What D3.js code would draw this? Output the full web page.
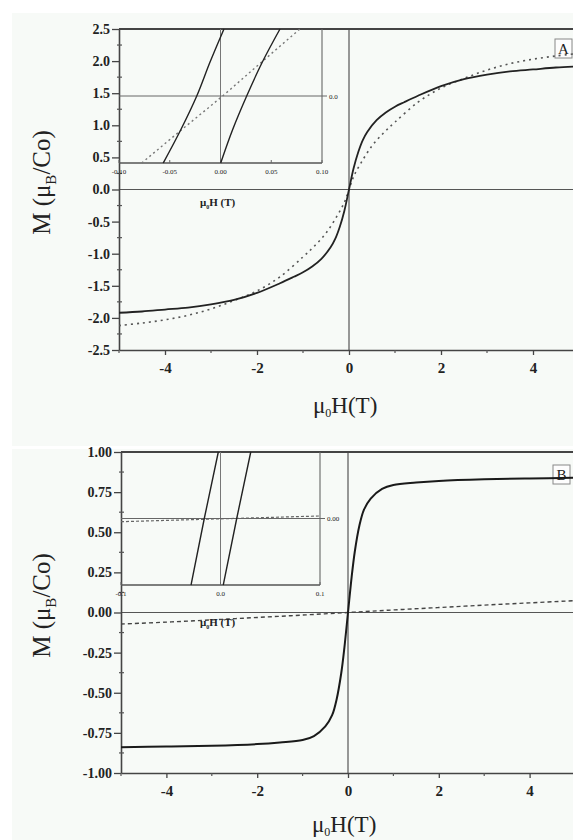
<!DOCTYPE html>
<html>
<head>
<meta charset="utf-8">
<script src="https://cdn.jsdelivr.net/npm/d3@7"></script>
<style>
  body { margin: 0; background: #ffffff; }
  svg { display: block; }
  text { font-family: "Liberation Serif", "DejaVu Serif", serif; fill: #222; }
</style>
</head>
<body>
<svg id="chart" width="573" height="840"></svg>
<script>
// ---- panel A : main curves ----
const hA_solid = [-5,-4.5,-4,-3.5,-3,-2.5,-2,-1.5,-1.2,-1,-0.8,-0.6,-0.4,-0.3,-0.2,-0.1,0,0.1,0.2,0.3,0.4,0.6,0.8,1,1.2,1.5,2,2.5,3,3.5,4,4.5,5];
const mA_solid = [-1.92,-1.90,-1.87,-1.84,-1.79,-1.72,-1.61,-1.46,-1.36,-1.29,-1.20,-1.08,-0.90,-0.77,-0.58,-0.33,0,0.33,0.58,0.77,0.90,1.08,1.20,1.29,1.36,1.46,1.61,1.72,1.79,1.84,1.87,1.90,1.92];
const hA_dot = [-5,-4.5,-4,-3.5,-3,-2.5,-2,-1.5,-1,-0.75,-0.5,-0.25,-0.1,0,0.1,0.25,0.5,0.75,1,1.5,2,2.5,3,3.5,4,4.5,5];
const mA_dot = [-2.12,-2.08,-2.03,-1.96,-1.86,-1.73,-1.58,-1.36,-1.05,-0.88,-0.68,-0.40,-0.20,0,0.20,0.40,0.68,0.88,1.05,1.36,1.58,1.73,1.86,1.96,2.03,2.08,2.12];

// ---- panel A : inset (zoom around zero field) ----
const insA_left_h = [-0.0564,-0.039,-0.0234,-0.0105,0.0034];
const insA_right_h = [0.0002,0.012,0.0258,0.041,0.0586];
const insA_solid_m = [-1,-0.5,0,0.5,1];
const insA_dot_h = [-0.0776,-0.038,0.002,0.040,0.0783];
const insA_dot_m = [-1,-0.5,0,0.5,1];

// ---- panel B : main curves ----
const hB_solid = [-5,-4,-3,-2,-1.5,-1,-0.75,-0.5,-0.35,-0.25,-0.15,-0.08,0,0.08,0.15,0.25,0.35,0.5,0.75,1,1.5,2,3,4,5];
const mB_solid = [-0.84,-0.835,-0.83,-0.82,-0.81,-0.795,-0.77,-0.71,-0.64,-0.54,-0.38,-0.22,0,0.22,0.38,0.54,0.64,0.71,0.77,0.795,0.81,0.82,0.83,0.835,0.84];
const hB_dash = [-5,-4,-3,-2,-1,0,1,2,3,4,5];
const mB_dash = [-0.072,-0.06,-0.046,-0.031,-0.016,0,0.016,0.031,0.046,0.06,0.074];

// ---- panel B : inset ----
const insB_left_h = [-0.0296,-0.0163,-0.0022];
const insB_right_h = [0.0028,0.0163,0.0304];
const insB_solid_m = [-1,0,1];
const insB_dash_h = [-0.1,0,0.1];
const insB_dash_m = [-0.048,-0.005,0.038];

// ticks
const xMajor = [-4,-2,0,2,4];
const xMinor = [-5,-3,-1,1,3,5];
const yMajorA = [2.5,2.0,1.5,1.0,0.5,0.0,-0.5,-1.0,-1.5,-2.0,-2.5];
const yMinorA = [2.25,1.75,1.25,0.75,0.25,-0.25,-0.75,-1.25,-1.75,-2.25];
const yMajorB = [1.0,0.75,0.5,0.25,0,-0.25,-0.5,-0.75,-1.0];
const yMinorB = [0.875,0.625,0.375,0.125,-0.125,-0.375,-0.625,-0.875];
const insTicksA = [-0.10,-0.05,0.00,0.05,0.10];
const insTicksB = [-0.1,0.0,0.1];

let svg = d3.select("#chart");

const zip = (xs, ys) => xs.map((x, i) => [x, ys[i]]);
const fmt = (d, n) => d.toFixed(n).replace("\u2212", "-");

function drawPanel(cfg){
    let g = svg.append("g");
    let x = d3.scaleLinear().domain([-5, 5]).range([cfg.left, cfg.right]);
    let y = d3.scaleLinear().domain(cfg.ydom).range([cfg.bottom, cfg.top]);

    // soft photo background
    g.append("rect").attr("x", 12).attr("y", cfg.bgTop).attr("width", 561)
        .attr("height", cfg.bgH).attr("fill", "#f7faf7");

    // zero lines
    g.append("line").attr("x1", x(0)).attr("x2", x(0)).attr("y1", cfg.top).attr("y2", cfg.bottom)
        .attr("stroke", "#555").attr("stroke-width", 1.2);
    g.append("line").attr("x1", cfg.left).attr("x2", cfg.right).attr("y1", y(0)).attr("y2", y(0))
        .attr("stroke", "#555").attr("stroke-width", 1.2);

    // top border
    g.append("line").attr("x1", cfg.left).attr("x2", cfg.right).attr("y1", cfg.top).attr("y2", cfg.top)
        .attr("stroke", "#444").attr("stroke-width", 2);

    // y axis
    let yAx = g.append("g").attr("transform", `translate(${cfg.left},0)`)
        .call(d3.axisLeft(y).tickValues(cfg.yMajor).tickSize(7).tickSizeOuter(0)
            .tickFormat(d => fmt(d, cfg.yDec)));
    yAx.select(".domain").attr("stroke", "#444").attr("stroke-width", 1.6);
    yAx.selectAll(".tick line").attr("stroke", "#444").attr("stroke-width", 1.3);
    yAx.selectAll("text").attr("font-size", 14).attr("font-weight", "bold")
        .attr("fill", "#333").attr("x", -9).style("font-family", "Liberation Serif");
    g.selectAll(".yminor").data(cfg.yMinor).enter().append("line")
        .attr("x1", cfg.left - 2).attr("x2", cfg.left + 3)
        .attr("y1", d => y(d)).attr("y2", d => y(d))
        .attr("stroke", "#555").attr("stroke-width", 1.2);

    // x axis
    let xAx = g.append("g").attr("transform", `translate(0,${cfg.bottom})`)
        .call(d3.axisBottom(x).tickValues(xMajor).tickSize(5).tickSizeOuter(0)
            .tickFormat(d => fmt(d, 0)));
    xAx.select(".domain").attr("stroke", "#444").attr("stroke-width", 1.6);
    xAx.selectAll(".tick line").attr("stroke", "#444").attr("stroke-width", 1.3);
    xAx.selectAll("text").attr("font-size", 15).attr("font-weight", "bold")
        .attr("fill", "#333").attr("y", 12).style("font-family", "Liberation Serif");
    g.selectAll(".xminor").data(xMinor).enter().append("line")
        .attr("x1", d => x(d)).attr("x2", d => x(d))
        .attr("y1", cfg.bottom).attr("y2", cfg.bottom + 3)
        .attr("stroke", "#555").attr("stroke-width", 1.2);

    // axis titles
    let xt = g.append("text").attr("x", x(0) - 36).attr("y", cfg.bottom + cfg.titleOff)
        .attr("font-size", 23).attr("fill", "#333");
    xt.append("tspan").text("\u03bc");
    xt.append("tspan").text("0").attr("font-size", 12).attr("dy", 4);
    xt.append("tspan").text("H(T)").attr("dy", -4);

    let yt = g.append("text")
        .attr("transform", `translate(50,${(cfg.top + cfg.bottom) / 2 - 7}) rotate(-90)`)
        .attr("text-anchor", "middle").attr("font-size", 25).attr("fill", "#333");
    yt.append("tspan").text("M (\u03bc");
    yt.append("tspan").text("B").attr("font-size", 15).attr("dy", 6);
    yt.append("tspan").text("/Co)").attr("dy", -6);

    // label box
    g.append("rect").attr("x", cfg.tagX).attr("y", cfg.tagY).attr("width", 17).attr("height", 19)
        .attr("fill", "#fdfdfd").attr("stroke", "#888").attr("stroke-width", 1);
    g.append("text").attr("x", cfg.tagX + 8.5).attr("y", cfg.tagY + 15).attr("text-anchor", "middle")
        .attr("font-size", 15).attr("fill", "#333").text(cfg.tag);

    let line = d3.line().x(d => x(d[0])).y(d => y(d[1])).curve(d3.curveCatmullRom.alpha(0.5));
    cfg.series.forEach(s => {
        g.append("path").attr("d", line(s.pts)).attr("fill", "none")
            .attr("stroke", s.color).attr("stroke-width", s.width)
            .attr("stroke-dasharray", s.dash || null);
    });

    drawInset(g, cfg.inset);
}

function drawInset(g, ins){
    let ix = d3.scaleLinear().domain([-0.1, 0.1]).range([ins.left, ins.right]);
    let iy = d3.scaleLinear().domain([-1, 1]).range([ins.bottom, ins.top]);

    // frame: right + bottom
    g.append("line").attr("x1", ins.right).attr("x2", ins.right).attr("y1", ins.top).attr("y2", ins.bottom)
        .attr("stroke", "#666").attr("stroke-width", 1.1);
    g.append("line").attr("x1", ins.left).attr("x2", ins.right).attr("y1", ins.bottom).attr("y2", ins.bottom)
        .attr("stroke", "#555").attr("stroke-width", 1.3);
    // zero lines
    g.append("line").attr("x1", ix(0)).attr("x2", ix(0)).attr("y1", ins.top).attr("y2", ins.bottom)
        .attr("stroke", "#777").attr("stroke-width", 1);
    g.append("line").attr("x1", ins.left).attr("x2", ins.right + 5).attr("y1", iy(0)).attr("y2", iy(0))
        .attr("stroke", "#666").attr("stroke-width", 1);

    g.selectAll(null).data(ins.ticks).enter().append("line")
        .attr("x1", d => ix(d)).attr("x2", d => ix(d))
        .attr("y1", ins.bottom).attr("y2", ins.bottom - 3)
        .attr("stroke", "#666").attr("stroke-width", 1);
    g.selectAll(null).data(ins.ticks).enter().append("text")
        .attr("x", d => ix(d)).attr("y", ins.bottom + 11).attr("text-anchor", "middle")
        .attr("font-size", 7).attr("fill", "#555").text(d => fmt(d, ins.dec));
    g.append("text").attr("x", ins.right + 7).attr("y", iy(0) + 2.5)
        .attr("font-size", 7).attr("fill", "#555").text(ins.zeroLabel);

    let t = g.append("text").attr("x", ins.titleX).attr("y", ins.titleY)
        .attr("font-size", 11).attr("font-weight", "bold").attr("fill", "#444");
    t.append("tspan").text("\u03bc");
    t.append("tspan").text("0").attr("font-size", 6).attr("dy", 3);
    t.append("tspan").text("H (T)").attr("dy", -3);

    let line = d3.line().x(d => ix(d[0])).y(d => iy(d[1])).curve(d3.curveMonotoneY);
    ins.series.forEach(s => {
        g.append("path").attr("d", line(s.pts)).attr("fill", "none")
            .attr("stroke", s.color).attr("stroke-width", s.width)
            .attr("stroke-dasharray", s.dash || null);
    });
}

drawPanel({
    tag: "A", tagX: 555, tagY: 39,
    left: 119, right: 579, top: 29, bottom: 350, titleOff: 63,
    bgTop: 13, bgH: 433,
    ydom: [-2.5, 2.5], yMajor: yMajorA, yMinor: yMinorA, yDec: 1,
    series: [
        {pts: zip(hA_dot, mA_dot), color: "#555", width: 1.6, dash: "2,4"},
        {pts: zip(hA_solid, mA_solid), color: "#222", width: 1.8}
    ],
    inset: {
        left: 119, right: 322, top: 29, bottom: 163,
        ticks: insTicksA, dec: 2, zeroLabel: "0.0",
        titleX: 200, titleY: 206,
        series: [
            {pts: zip(insA_dot_h, insA_dot_m), color: "#777", width: 1.4, dash: "2,3"},
            {pts: zip(insA_left_h, insA_solid_m), color: "#222", width: 1.4},
            {pts: zip(insA_right_h, insA_solid_m), color: "#222", width: 1.4}
        ]
    }
});

drawPanel({
    tag: "B", tagX: 553, tagY: 465,
    left: 121, right: 575, top: 452, bottom: 773, titleOff: 59,
    bgTop: 449, bgH: 391,
    ydom: [-1, 1], yMajor: yMajorB, yMinor: yMinorB, yDec: 2,
    series: [
        {pts: zip(hB_dash, mB_dash), color: "#444", width: 1.4, dash: "4,3"},
        {pts: zip(hB_solid, mB_solid), color: "#1a1a1a", width: 2}
    ],
    inset: {
        left: 121, right: 320, top: 452, bottom: 585,
        ticks: insTicksB, dec: 1, zeroLabel: "0.00",
        titleX: 200, titleY: 626,
        series: [
            {pts: zip(insB_dash_h, insB_dash_m), color: "#666", width: 1.2, dash: "3,2"},
            {pts: zip(insB_left_h, insB_solid_m), color: "#222", width: 1.4},
            {pts: zip(insB_right_h, insB_solid_m), color: "#222", width: 1.4}
        ]
    }
});
</script>
</body>
</html>
